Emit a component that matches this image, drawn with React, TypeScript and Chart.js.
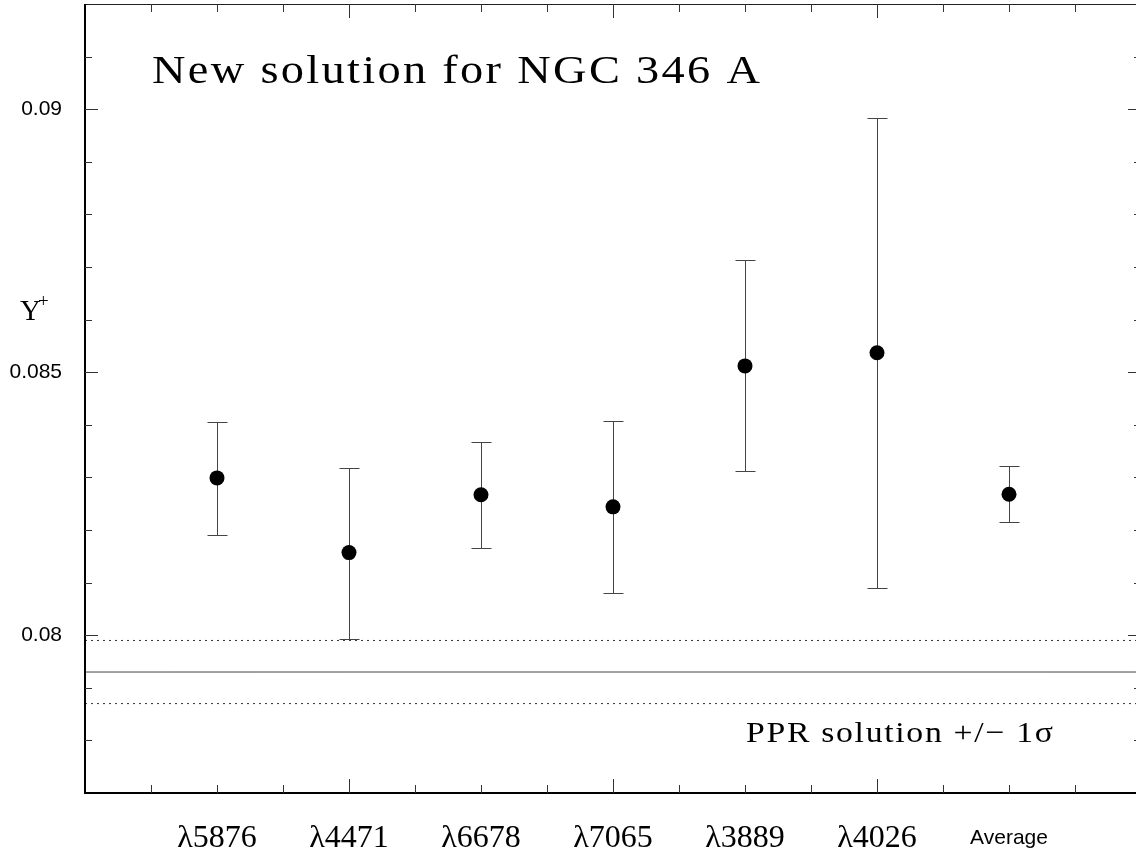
import React, { useEffect, useRef } from 'react';
import { Chart, registerables } from 'chart.js';

Chart.register(...registerables);

// ---- data ----
const categories = ['λ5876', 'λ4471', 'λ6678', 'λ7065', 'λ3889', 'λ4026', 'Average'];
const yValues = [0.08299, 0.08157, 0.08267, 0.08244, 0.08512, 0.08537, 0.08268];
const yUpper = [0.08406, 0.08318, 0.08368, 0.08408, 0.08713, 0.08983, 0.08321];
const yLower = [0.08191, 0.07993, 0.08165, 0.08081, 0.08313, 0.08089, 0.08216];
const pprSolution = 0.0793;
const pprUpper = 0.0799;
const pprLower = 0.0787;
const yTickValues = [0.08, 0.085, 0.09];
const yTickLabels = ['0.08', '0.085', '0.09'];
const titleText = 'New solution for NGC 346 A';
const pprText = 'PPR solution +/− 1σ';
const yAxisLabel = 'Y';
const yAxisLabelSup = '+';

const X_MIN = -1;
const X_MAX = 7;
const Y_MIN = 0.077;
const Y_MAX = 0.092;

const CANVAS_W = 1142;
const CANVAS_H = 855;

const SERIF = '"Liberation Serif", "Times New Roman", serif';
const SANS = 'Arial, "Liberation Sans", sans-serif';

function drawStretched(
  ctx: CanvasRenderingContext2D,
  text: string,
  x: number,
  y: number,
  font: string,
  spacing: number,
  targetWidth: number
) {
  ctx.save();
  ctx.font = font;
  (ctx as any).letterSpacing = spacing + 'px';
  const w0 = ctx.measureText(text).width - spacing;
  const sx = targetWidth / w0;
  ctx.translate(x, y);
  ctx.scale(sx, 1);
  ctx.fillStyle = '#000';
  ctx.textAlign = 'left';
  ctx.textBaseline = 'alphabetic';
  ctx.fillText(text, 0, 0);
  ctx.restore();
}

function zeroPad(scale: any) {
  scale.paddingLeft = 0;
  scale.paddingRight = 0;
  scale.paddingTop = 0;
  scale.paddingBottom = 0;
}

const framePlugin = {
  id: 'framePlugin',
  beforeDatasetsDraw(chart: any) {
    const ctx: CanvasRenderingContext2D = chart.ctx;
    const xs = chart.scales.x;
    const ys = chart.scales.y;
    // error bars
    ctx.save();
    ctx.strokeStyle = '#444';
    ctx.lineWidth = 1;
    for (let i = 0; i < categories.length; i++) {
      const px = Math.round(xs.getPixelForValue(i)) + 0.5;
      const pt = Math.round(ys.getPixelForValue(yUpper[i])) + 0.5;
      const pb = Math.round(ys.getPixelForValue(yLower[i])) + 0.5;
      ctx.beginPath();
      ctx.moveTo(px, pt);
      ctx.lineTo(px, pb);
      ctx.moveTo(px - 10, pt);
      ctx.lineTo(px + 10, pt);
      ctx.moveTo(px - 10, pb);
      ctx.lineTo(px + 10, pb);
      ctx.stroke();
    }
    ctx.restore();
  },
  afterDraw(chart: any) {
    const ctx: CanvasRenderingContext2D = chart.ctx;
    const { left, right, top, bottom } = chart.chartArea;
    const xs = chart.scales.x;
    const ys = chart.scales.y;
    ctx.save();
    // frame
    ctx.strokeStyle = '#222';
    ctx.lineWidth = 1;
    ctx.beginPath();
    ctx.moveTo(left, top + 0.5);
    ctx.lineTo(right, top + 0.5);
    ctx.moveTo(right - 0.5, top);
    ctx.lineTo(right - 0.5, bottom);
    ctx.stroke();
    ctx.lineWidth = 2;
    ctx.strokeStyle = '#000';
    ctx.beginPath();
    ctx.moveTo(left, top);
    ctx.lineTo(left, bottom + 1);
    ctx.moveTo(left, bottom);
    ctx.lineTo(right, bottom);
    ctx.stroke();
    // x ticks
    ctx.lineWidth = 1;
    ctx.strokeStyle = '#333';
    ctx.beginPath();
    for (const t of xs.ticks) {
      const v = t.value;
      if (v <= X_MIN || v >= X_MAX) continue;
      const px = Math.round(xs.getPixelForValue(v)) + 0.5;
      const isLong = Number.isInteger(v) && Math.abs(v) % 2 === 1;
      const len = isLong ? 14 : 8;
      ctx.moveTo(px, bottom);
      ctx.lineTo(px, bottom - len);
      ctx.moveTo(px, top);
      ctx.lineTo(px, top + len);
    }
    // y ticks
    for (const t of ys.ticks) {
      const v = t.value;
      if (v <= Y_MIN + 1e-9 || v >= Y_MAX - 1e-9) continue;
      const py = Math.round(ys.getPixelForValue(v)) + 0.5;
      const isLong = yTickValues.some((q) => Math.abs(q - v) < 1e-7);
      const len = isLong ? 13 : 7;
      ctx.moveTo(left, py);
      ctx.lineTo(left + len, py);
      ctx.moveTo(right, py);
      ctx.lineTo(right - len, py);
    }
    ctx.stroke();
    ctx.restore();

    // texts
    drawStretched(ctx, titleText, 152, 83, `40px ${SERIF}`, 2, 608);
    drawStretched(ctx, pprText, 746, 742, `30px ${SERIF}`, 1.5, 307);
    ctx.save();
    ctx.fillStyle = '#000';
    ctx.textBaseline = 'alphabetic';
    ctx.textAlign = 'left';
    ctx.font = `29px ${SERIF}`;
    ctx.fillText(yAxisLabel, 20, 320);
    ctx.font = `19px ${SERIF}`;
    ctx.fillText(yAxisLabelSup, 38, 307);
    ctx.restore();
  },
};

export default function App() {
  const ref = useRef<HTMLCanvasElement | null>(null);
  useEffect(() => {
    if (!ref.current) return;
    const chart = new Chart(ref.current, {
      type: 'scatter',
      data: {
        datasets: [
          {
            type: 'line',
            data: [{ x: X_MIN, y: pprSolution }, { x: X_MAX, y: pprSolution }],
            borderColor: '#444',
            borderWidth: 1,
            pointRadius: 0,
            fill: false,
          } as any,
          {
            type: 'line',
            data: [{ x: X_MIN, y: pprUpper }, { x: X_MAX, y: pprUpper }],
            borderColor: '#333',
            borderWidth: 1,
            borderDash: [2, 4],
            pointRadius: 0,
            fill: false,
          } as any,
          {
            type: 'line',
            data: [{ x: X_MIN, y: pprLower }, { x: X_MAX, y: pprLower }],
            borderColor: '#333',
            borderWidth: 1,
            borderDash: [2, 4],
            pointRadius: 0,
            fill: false,
          } as any,
          {
            data: categories.map((_, i) => ({ x: i, y: yValues[i] })),
            pointRadius: 7.5,
            pointBackgroundColor: '#000',
            pointBorderWidth: 0,
            showLine: false,
          } as any,
        ],
      },
      options: {
        animation: false,
        responsive: false,
        devicePixelRatio: 1,
        layout: { autoPadding: false, padding: { top: 4, right: 1, left: 0, bottom: 0 } },
        plugins: { legend: { display: false }, tooltip: { enabled: false } },
        scales: {
          x: {
            type: 'linear',
            min: X_MIN,
            max: X_MAX,
            grid: { display: false, drawTicks: false },
            border: { display: false },
            afterBuildTicks: (scale: any) => {
              const t: any[] = [];
              for (let k = X_MIN * 2; k <= X_MAX * 2; k++) t.push({ value: k / 2 });
              scale.ticks = t;
            },
            afterFit: (scale: any) => {
              scale.height = 62;
              zeroPad(scale);
            },
            ticks: {
              autoSkip: false,
              maxRotation: 0,
              minRotation: 0,
              padding: 26,
              color: '#000',
              callback: (v: any) => {
                const n = Number(v);
                return Number.isInteger(n) && n >= 0 && n < categories.length ? categories[n] : '';
              },
              font: (c: any) => {
                const v = c.tick ? c.tick.value : -1;
                if (v === categories.length - 1) return { family: SANS, size: 21, lineHeight: 38 / 21 } as any;
                return { family: SERIF, size: 32, lineHeight: 1.2 } as any;
              },
            },
          },
          y: {
            type: 'linear',
            min: Y_MIN,
            max: Y_MAX,
            grid: { display: false, drawTicks: false },
            border: { display: false },
            afterBuildTicks: (scale: any) => {
              const t: any[] = [];
              for (let k = 77; k <= 92; k++) t.push({ value: k / 1000 });
              scale.ticks = t;
            },
            afterFit: (scale: any) => {
              scale.width = 85;
              zeroPad(scale);
            },
            ticks: {
              autoSkip: false,
              padding: 23,
              color: '#000',
              font: { family: SANS, size: 21 },
              callback: (v: any) => {
                const n = Number(v);
                const idx = yTickValues.findIndex((q) => Math.abs(q - n) < 1e-7);
                return idx >= 0 ? yTickLabels[idx] : '';
              },
            },
          },
        },
      },
      plugins: [framePlugin],
    });
    return () => chart.destroy();
  }, []);

  return (
    <div style={{ position: 'fixed', left: 0, top: 0, width: CANVAS_W, height: CANVAS_H, background: '#fff', overflow: 'hidden' }}>
      <canvas ref={ref} width={CANVAS_W} height={CANVAS_H} style={{ display: 'block', width: CANVAS_W, height: CANVAS_H }} />
    </div>
  );
}
